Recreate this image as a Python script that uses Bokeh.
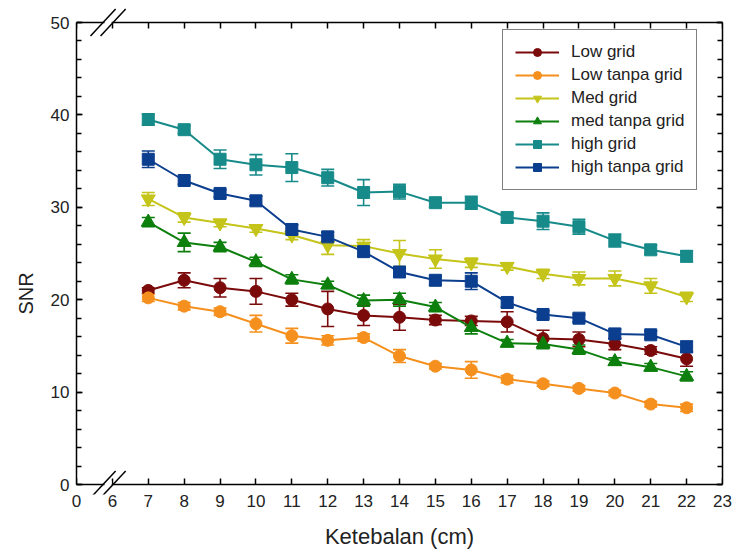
from bokeh.plotting import figure
from bokeh.models import (ColumnDataSource, Whisker, TeeHead, LinearAxis, FixedTicker,
                          SingleIntervalTicker, BoxAnnotation, Arrow, Range1d, Title)
from bokeh.embed import file_html
from bokeh.resources import INLINE

x = [7, 8, 9, 10, 11, 12, 13, 14, 15, 16, 17, 18, 19, 20, 21, 22]

low_grid = [21.0, 22.1, 21.3, 20.9, 20.0, 19.0, 18.3, 18.1, 17.8, 17.7, 17.6, 15.8, 15.7, 15.2, 14.5, 13.6]
low_grid_err = [0.3, 0.8, 1.0, 1.4, 0.7, 1.9, 1.1, 1.4, 0.5, 0.5, 1.1, 0.9, 0.8, 0.6, 0.4, 0.8]

low_tanpa = [20.2, 19.3, 18.7, 17.4, 16.1, 15.6, 15.9, 13.9, 12.8, 12.4, 11.4, 10.9, 10.4, 9.9, 8.7, 8.3]
low_tanpa_err = [0.4, 0.4, 0.4, 0.9, 0.8, 0.5, 0.4, 0.7, 0.3, 0.9, 0.4, 0.3, 0.3, 0.3, 0.3, 0.4]

med_grid = [30.9, 28.9, 28.3, 27.7, 27.0, 25.9, 25.8, 25.0, 24.4, 24.0, 23.6, 22.8, 22.3, 22.3, 21.5, 20.3]
med_grid_err = [0.7, 0.5, 0.4, 0.4, 0.5, 1.0, 0.7, 1.4, 1.0, 0.5, 0.4, 0.5, 0.7, 0.8, 0.8, 0.5]

med_tanpa = [28.4, 26.2, 25.7, 24.1, 22.2, 21.6, 19.9, 20.0, 19.2, 17.0, 15.3, 15.2, 14.6, 13.3, 12.7, 11.7]
med_tanpa_err = [0.5, 1.0, 0.5, 0.5, 0.5, 0.4, 0.6, 0.7, 0.5, 0.7, 0.4, 0.5, 0.5, 0.4, 0.4, 0.5]

high_grid = [39.5, 38.4, 35.2, 34.6, 34.3, 33.2, 31.6, 31.7, 30.5, 30.5, 28.9, 28.5, 27.9, 26.4, 25.4, 24.7]
high_grid_err = [0.6, 0.4, 1.0, 1.1, 1.5, 0.9, 1.4, 0.8, 0.5, 0.7, 0.5, 0.9, 0.8, 0.7, 0.5, 0.6]

high_tanpa = [35.2, 32.9, 31.5, 30.7, 27.6, 26.8, 25.2, 23.0, 22.1, 22.0, 19.7, 18.4, 18.0, 16.3, 16.2, 14.9]
high_tanpa_err = [0.9, 0.4, 0.4, 0.5, 0.5, 0.5, 0.5, 0.5, 0.5, 0.9, 0.5, 0.4, 0.4, 0.5, 0.4, 0.6]

x_ticks = [5, 6, 7, 8, 9, 10, 11, 12, 13, 14, 15, 16, 17, 18, 19, 20, 21, 22, 23]
x_tick_labels = {5: "0"}
y_min, y_max = 0, 50

series = [
    ("Low grid", low_grid, low_grid_err, "#7b0a0a", "circle", 12),
    ("Low tanpa grid", low_tanpa, low_tanpa_err, "#f5901e", "circle", 12),
    ("Med grid", med_grid, med_grid_err, "#c4c41a", "inverted_triangle", 14),
    ("med tanpa grid", med_tanpa, med_tanpa_err, "#0d7f0d", "triangle", 14),
    ("high grid", high_grid, high_grid_err, "#178a8a", "square", 12),
    ("high tanpa grid", high_tanpa, high_tanpa_err, "#0b3e8e", "square", 12),
]

FONT = "Liberation Sans"

# frame extends a little beyond the 0..50 box so the break marks are not clipped
px_per_unit = 9.24
pad_top = 15 / px_per_unit
pad_bot = 10 / px_per_unit
p = figure(width=732, height=554, x_range=Range1d(5, 23),
           y_range=Range1d(y_min - pad_bot, y_max + pad_top),
           output_backend="svg", toolbar_location=None, x_axis_location=None, y_axis_location=None,
           min_border_left=76, min_border_right=10, min_border_top=7, min_border_bottom=60)
p.background_fill_color = "white"
p.border_fill_color = "white"
p.outline_line_color = None
p.grid.visible = False

for name, ys, errs, color, marker, size in series:
    src = ColumnDataSource(dict(x=x, y=ys,
                                lo=[a - b for a, b in zip(ys, errs)],
                                hi=[a + b for a, b in zip(ys, errs)]))
    w = Whisker(source=src, base="x", lower="lo", upper="hi",
                line_color=color, line_width=1.6,
                upper_head=TeeHead(size=13, line_color=color, line_width=1.6),
                lower_head=TeeHead(size=13, line_color=color, line_width=1.6))
    p.add_layout(w)
    p.line("x", "y", source=src, line_color=color, line_width=2, legend_label=name)
    p.scatter("x", "y", source=src, marker=marker, size=size, fill_color=color,
              line_color=color, legend_label=name)


def style_axis(ax):
    ax.axis_line_color = "black"
    ax.axis_line_width = 1.5
    ax.major_tick_line_color = "black"
    ax.major_tick_line_width = 1.5
    ax.minor_tick_line_color = "black"
    ax.minor_tick_line_width = 1.5
    ax.major_tick_in = 6
    ax.major_tick_out = 0
    ax.minor_tick_in = 5
    ax.minor_tick_out = 0
    ax.major_label_text_font = FONT
    ax.major_label_text_font_size = "17px"
    ax.major_label_text_color = "#222222"
    ax.axis_label_text_font = FONT
    ax.axis_label_text_font_size = "22px"
    ax.axis_label_text_font_style = "normal"
    ax.axis_label_text_color = "#222222"


# bottom axis line and ticks drawn at y = 0 inside the padded frame
xline = LinearAxis(ticker=FixedTicker(ticks=x_ticks),
                   major_label_overrides={t: "" for t in x_ticks}, fixed_location=y_min)
style_axis(xline)
p.add_layout(xline, "below")

# bottom tick labels and title, in the panel below the frame
xa = LinearAxis(ticker=FixedTicker(ticks=x_ticks), major_label_overrides=x_tick_labels,
                axis_label="Ketebalan (cm)")
style_axis(xa)
xa.axis_line_color = None
xa.major_tick_in = 0
xa.minor_tick_in = 0
xa.major_label_standoff = 0
xa.axis_label_standoff = 14
p.add_layout(xa, "below")

top = LinearAxis(ticker=FixedTicker(ticks=x_ticks),
                 major_label_overrides={t: "" for t in x_ticks}, fixed_location=y_max)
style_axis(top)
p.add_layout(top, "above")

ya = LinearAxis(ticker=SingleIntervalTicker(interval=10, num_minor_ticks=5), bounds=(y_min, y_max))
style_axis(ya)
ya.major_label_standoff = 7
p.add_layout(ya, "left")

# y title placed a little below the middle, as in the reference
ytitle = Title(text="SNR", align="left", offset=180, standoff=21,
               text_font=FONT, text_font_size="20px", text_font_style="normal",
               text_color="#222222")
p.add_layout(ytitle, "left")

right = LinearAxis(ticker=SingleIntervalTicker(interval=10, num_minor_ticks=5), bounds=(y_min, y_max),
                   major_label_overrides={t: "" for t in range(0, 60, 10)})
style_axis(right)
right.major_label_standoff = 0
p.add_layout(right, "right")

# axis break marks on top and bottom axes
for yb in (y_min, y_max):
    p.add_layout(BoxAnnotation(left=5.78, right=5.98, bottom=yb - 0.35, top=yb + 0.35,
                               fill_color="white", fill_alpha=1, line_color=None,
                               level="overlay"))
    for xc in (5.74, 6.02):
        p.add_layout(Arrow(x_start=xc - 0.35, y_start=yb - 1.45, x_end=xc + 0.35, y_end=yb + 1.45,
                           start=None, end=None, line_color="black", line_width=1.5,
                           level="overlay"))

lg = p.legend[0]
lg.location = (426, 304)
lg.border_line_color = "black"
lg.border_line_width = 1.5
lg.background_fill_color = "white"
lg.background_fill_alpha = 1
lg.label_text_font = FONT
lg.label_text_font_size = "17px"
lg.label_text_color = "#222222"
lg.glyph_width = 44
lg.glyph_height = 20
lg.label_height = 20
lg.spacing = 3
lg.padding = 12
lg.label_standoff = 12
lg.margin = 0

open("out.html", "w").write(file_html(p, INLINE))
